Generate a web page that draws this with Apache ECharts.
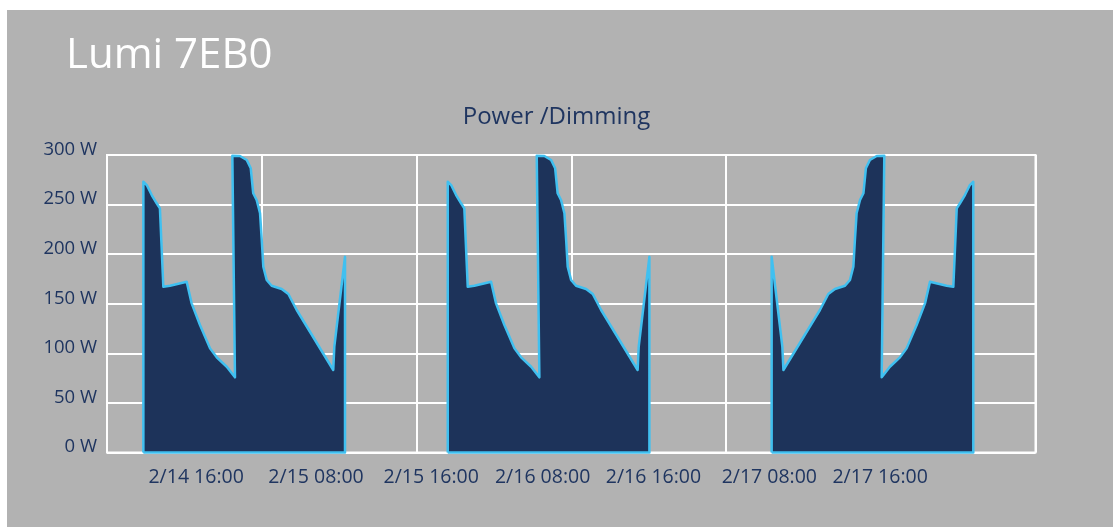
<!DOCTYPE html>
<html>
<head>
<meta charset="utf-8">
<script src="https://cdn.jsdelivr.net/npm/echarts@6/dist/echarts.min.js"></script>
<style>
  html, body { margin: 0; padding: 0; background: #ffffff; }
  #wrap { position: relative; width: 1113px; height: 527px; overflow: hidden; }
  #panel { position: absolute; left: 7px; top: 10px; right: 0; bottom: 0; background: #b2b2b2; }
  #chart { position: absolute; left: 0; top: 0; width: 1113px; height: 527px; }
</style>
</head>
<body>
<div id="wrap"><div id="panel"></div><div id="chart"></div></div>
<script>
// x positions are in axis slots (0..600), values in watts
const titleText = 'Lumi 7EB0';
const subtitleText = 'Power /Dimming';

const xLabelPos = [57.6, 135.1, 209.5, 281.5, 353.1, 428.0, 499.6];
const xLabelText = ['2/14 16:00', '2/15 08:00', '2/15 16:00', '2/16 08:00', '2/16 16:00', '2/17 08:00', '2/17 16:00'];

const yMin = 0, yMax = 300, yStep = 50;

const seg1X = [23.5, 23.5, 25.7, 28.9, 32.1, 34.2, 36.4, 40.7, 51.5, 54.7, 60.1, 66.6, 70.9, 77.4, 82.7, 81.0, 85.9, 90.3, 92.9, 94.5, 96.7, 98.9, 100.0, 101.0, 103.2, 106.4, 112.9, 117.2, 122.6, 146.2, 146.9, 153.8, 153.8, 23.5];
const seg1W = [0, 273, 269.7, 259.6, 251.3, 246.2, 167.2, 168.2, 172.2, 150.4, 128.6, 105, 96, 86.5, 75.8, 299.3, 299, 295, 286.6, 261.4, 254.6, 241.2, 214.3, 187.4, 174, 168.2, 164.9, 159.8, 143.7, 83.2, 106.7, 197.4, 0, 0];

const seg2X = [220.2, 220.2, 222.4, 225.6, 228.8, 230.9, 233.1, 237.4, 248.2, 251.4, 256.8, 263.3, 267.6, 274.1, 279.4, 277.7, 282.6, 287.0, 289.6, 291.2, 293.4, 295.6, 296.7, 297.7, 299.9, 303.1, 309.6, 313.9, 319.3, 342.9, 343.6, 350.5, 350.5, 220.2];
const seg2W = [0, 273, 269.7, 259.6, 251.3, 246.2, 167.2, 168.2, 172.2, 150.4, 128.6, 105, 96, 86.5, 75.8, 299.3, 299, 295, 286.6, 261.4, 254.6, 241.2, 214.3, 187.4, 174, 168.2, 164.9, 159.8, 143.7, 83.2, 106.7, 197.4, 0, 0];

const seg3X = [429.5, 429.5, 436.4, 437.1, 460.7, 466.1, 470.4, 476.9, 480.1, 482.3, 483.3, 484.4, 486.6, 488.8, 490.4, 493.0, 497.4, 502.3, 500.6, 505.9, 512.4, 516.7, 523.2, 528.6, 531.8, 542.6, 546.9, 549.1, 551.2, 554.4, 557.6, 559.8, 559.8, 429.5];
const seg3W = [0, 197.4, 106.7, 83.2, 143.7, 159.8, 164.9, 168.2, 174, 187.4, 214.3, 241.2, 254.6, 261.4, 286.6, 295, 299, 299.3, 75.8, 86.5, 96, 105, 128.6, 150.4, 172.2, 168.2, 167.2, 246.2, 251.3, 259.6, 269.7, 273, 0, 0];

const navy = '#1f3560';
const fillColor = '#1d335a';
const strokeColor = '#40c0f0';

function pairs(xs, ws) { return xs.map((x, i) => [x, ws[i]]); }

function seriesOf(xs, ws) {
  return {
    type: 'line',
    data: pairs(xs, ws),
    symbol: 'none',
    clip: false,
    lineStyle: { color: strokeColor, width: 2.5, join: 'round' },
    areaStyle: { color: fillColor, opacity: 1 },
    z: 3
  };
}

const chart = echarts.init(document.getElementById('chart'), null, { renderer: 'canvas' });
chart.setOption({
  backgroundColor: 'transparent',
  animation: false,
  title: [
    { text: titleText, left: 61, top: 30,
      textStyle: { color: '#ffffff', fontFamily: 'Open Sans', fontSize: 42, fontWeight: 'normal' } },
    { text: subtitleText, left: 'center', top: 100,
      textStyle: { color: navy, fontFamily: 'Open Sans', fontSize: 24, fontWeight: 'normal' } }
  ],
  grid: { left: 107, right: 77.5, top: 155, bottom: 74.5, show: true, borderColor: '#ffffff', borderWidth: 2, backgroundColor: 'transparent' },
  xAxis: {
    type: 'value', min: 0, max: 600, interval: 100,
    axisLine: { show: false }, axisTick: { show: false },
    splitLine: { show: true, lineStyle: { color: '#ffffff', width: 2 } },
    axisLabel: {
      customValues: xLabelPos,
      margin: 15,
      color: navy, fontFamily: 'Open Sans', fontSize: 19.5,
      formatter: function (v) {
        let best = -1, bd = 1e9;
        xLabelPos.forEach((p, i) => { const d = Math.abs(p - v); if (d < bd) { bd = d; best = i; } });
        return bd < 1 ? xLabelText[best] : '';
      }
    }
  },
  yAxis: {
    type: 'value', min: yMin, max: yMax, interval: yStep,
    axisLine: { show: false }, axisTick: { show: false },
    splitLine: { show: true, lineStyle: { color: '#ffffff', width: 2 } },
    axisLabel: {
      margin: 10, color: navy, fontFamily: 'Open Sans', fontSize: 18.5,
      verticalAlign: 'bottom', lineHeight: 11,
      formatter: '{value} W'
    }
  },
  series: [seriesOf(seg1X, seg1W), seriesOf(seg2X, seg2W), seriesOf(seg3X, seg3W)]
});
</script>
</body>
</html>
